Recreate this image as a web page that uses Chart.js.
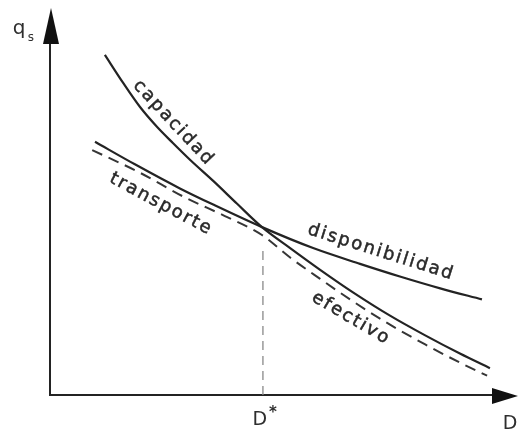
<!DOCTYPE html>
<html>
<head>
<meta charset="utf-8">
<script src="https://cdn.jsdelivr.net/npm/chart.js@4/dist/chart.umd.min.js"></script>
<style>
  html, body { margin: 0; padding: 0; background: #ffffff; }
  canvas { display: block; }
</style>
</head>
<body>
<canvas id="chart" width="519" height="434"></canvas>
<script>
// Sediment supply vs. transport capacity as a function of grain size D.
// Capacity curve (capacidad de transporte)
const capacidadD = [1.17, 1.56, 1.92, 2.28, 2.62, 2.99, 3.48, 3.99, 4.52, 5.12, 5.76, 6.46, 7.25, 8.00, 8.74, 9.38];
const capacidadQ = [8.61, 7.90, 7.29, 6.79, 6.38, 5.95, 5.42, 4.84, 4.25, 3.72, 3.17, 2.60, 2.01, 1.51, 1.05, 0.68];
// Availability curve (disponibilidad)
const disponibilidadD = [0.96, 1.81, 2.77, 3.48, 4.52, 5.61, 6.61, 7.46, 8.32, 9.21];
const disponibilidadQ = [6.41, 5.84, 5.23, 4.82, 4.25, 3.72, 3.32, 3.00, 2.70, 2.42];
// Effective transport (the lower envelope of both)
const efectivoD = [0.90, 1.88, 2.88, 3.73, 4.52, 5.12, 5.76, 6.46, 7.25, 8.00, 8.74, 9.32];
const efectivoQ = [6.20, 5.65, 5.00, 4.53, 4.05, 3.48, 2.94, 2.37, 1.78, 1.28, 0.82, 0.49];
// Critical grain size D* and its guide line
const criticalD = 4.54;
const criticalGuideQ = [0, 3.75];
// Texts
const criticalLabel = 'D';
const criticalMark = '*';
const xAxisTitle = 'D';
const yAxisTitle = 'q';
const yAxisSub = 's';
const curveNames = ['capacidad', 'transporte', 'disponibilidad', 'efectivo'];

// Axis extents (data units)
const dMax = 10, qMax = 10, qArrowTip = 9.8;

const toPoints = (xs, ys) => xs.map((x, i) => ({ x, y: ys[i] }));

const ink = '#232323';

// Where each curve name sits (data units) and its slant in degrees
const curveNameLayout = [
  { d: 2.62, q: 6.90, angle: 47 },
  { d: 2.35, q: 4.84, angle: 28 },
  { d: 7.04, q: 3.62, angle: 17.5 },
  { d: 6.40, q: 1.95, angle: 30.5 }
];

function drawSpaced(ctx, text, spacing) {
  let total = 0;
  const widths = [...text].map(ch => { const w = ctx.measureText(ch).width; total += w; return w; });
  total += spacing * (text.length - 1);
  let x = -total / 2;
  [...text].forEach((ch, i) => {
    ctx.fillText(ch, x, 0);
    ctx.strokeText(ch, x, 0);
    x += widths[i] + spacing;
  });
}

const axesPlugin = {
  id: 'sketchAxes',
  beforeDatasetsDraw(chart) {
    const { ctx, scales: { x, y } } = chart;
    const x0 = x.getPixelForValue(0), y0 = y.getPixelForValue(0);
    const xEnd = x.getPixelForValue(dMax), yEnd = y.getPixelForValue(qArrowTip);
    ctx.save();
    ctx.strokeStyle = ink;
    ctx.fillStyle = '#111';
    ctx.lineWidth = 2;
    // axes lines
    ctx.beginPath();
    ctx.moveTo(x0, yEnd + 20);
    ctx.lineTo(x0, y0);
    ctx.lineTo(xEnd - 20, y0);
    ctx.stroke();
    // q_s arrowhead
    ctx.beginPath();
    ctx.moveTo(x0 + 1, yEnd);
    ctx.lineTo(x0 - 7, yEnd + 36);
    ctx.lineTo(x0 + 9, yEnd + 36);
    ctx.closePath();
    ctx.fill();
    // D arrowhead
    ctx.beginPath();
    ctx.moveTo(xEnd - 1, y0 + 1);
    ctx.lineTo(xEnd - 27, y0 - 7);
    ctx.lineTo(xEnd - 27, y0 + 9);
    ctx.closePath();
    ctx.fill();

    // axis titles
    ctx.fillStyle = '#2e2e2e';
    ctx.textBaseline = 'alphabetic';
    ctx.textAlign = 'center';
    ctx.font = '19px "DejaVu Sans"';
    ctx.fillText(xAxisTitle, xEnd - 9, y0 + 34);
    ctx.fillText(criticalLabel, x.getPixelForValue(criticalD) - 3, y0 + 30);
    ctx.font = 'bold 15px "DejaVu Sans"';
    ctx.fillText(criticalMark, x.getPixelForValue(criticalD) + 10, y0 + 22);
    ctx.font = '20px "DejaVu Sans"';
    ctx.fillText(yAxisTitle, 19, 34);
    ctx.font = '12px "DejaVu Sans"';
    ctx.fillText(yAxisSub, 31, 41);
    ctx.restore();
  },
  afterDatasetsDraw(chart) {
    const { ctx, scales: { x, y } } = chart;
    ctx.save();
    ctx.fillStyle = '#2a2a2a';
    ctx.strokeStyle = '#2a2a2a';
    ctx.lineWidth = 0.5;
    ctx.font = '18px "DejaVu Sans"';
    ctx.textBaseline = 'middle';
    ctx.textAlign = 'left';
    curveNames.forEach((name, i) => {
      const p = curveNameLayout[i];
      ctx.save();
      ctx.translate(x.getPixelForValue(p.d), y.getPixelForValue(p.q));
      ctx.rotate(p.angle * Math.PI / 180);
      drawSpaced(ctx, name, 2);
      ctx.restore();
    });
    ctx.restore();
  }
};

new Chart(document.getElementById('chart'), {
  type: 'scatter',
  data: {
    datasets: [
      {
        label: 'capacidad',
        data: toPoints(capacidadD, capacidadQ),
        showLine: true, borderColor: ink, borderWidth: 2.2,
        pointRadius: 0, cubicInterpolationMode: 'monotone'
      },
      {
        label: 'disponibilidad',
        data: toPoints(disponibilidadD, disponibilidadQ),
        showLine: true, borderColor: ink, borderWidth: 2.2,
        pointRadius: 0, cubicInterpolationMode: 'monotone'
      },
      {
        label: 'efectivo',
        data: toPoints(efectivoD, efectivoQ),
        showLine: true, borderColor: '#363636', borderWidth: 2,
        borderDash: [11, 7],
        pointRadius: 0, cubicInterpolationMode: 'monotone'
      },
      {
        label: 'D*',
        data: toPoints([criticalD, criticalD], criticalGuideQ),
        showLine: true, borderColor: '#8a8a8a', borderWidth: 1.3,
        borderDash: [9, 6], pointRadius: 0
      }
    ]
  },
  options: {
    responsive: false,
    animation: false,
    devicePixelRatio: 1,
    layout: { padding: { left: 50, right: 0, top: 0, bottom: 39 } },
    plugins: { legend: { display: false }, tooltip: { enabled: false } },
    scales: {
      x: { type: 'linear', min: 0, max: dMax, display: false },
      y: { type: 'linear', min: 0, max: qMax, display: false }
    }
  },
  plugins: [axesPlugin]
});
</script>
</body>
</html>
